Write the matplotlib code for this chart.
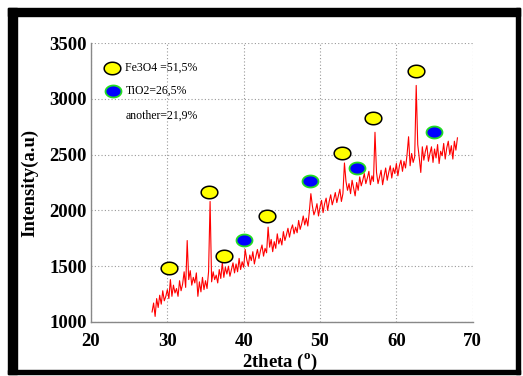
import numpy as np
import matplotlib
matplotlib.use("Agg")
import matplotlib.pyplot as plt
from matplotlib.path import Path
from matplotlib.patches import Rectangle

# XRD trace, every 0.2 degree (28.0 .. 68.0)
two_theta = np.round(np.arange(28.0, 68.01, 0.2), 1)
intensity = [
    1090, 1170, 1050, 1210, 1130,
    1240, 1160, 1280, 1190, 1230,
    1290, 1210, 1380, 1230, 1330,
    1260, 1300, 1230, 1370, 1280,
    1340, 1450, 1310, 1730, 1380,
    1460, 1330, 1400, 1350, 1440,
    1230, 1360, 1270, 1400, 1290,
    1370, 1300, 1450, 2080, 1360,
    1450, 1380, 1420, 1350, 1470,
    1390, 1530, 1400, 1490, 1430,
    1500, 1410, 1470, 1530, 1440,
    1520, 1450, 1570, 1470, 1540,
    1490, 1650, 1560, 1500, 1600,
    1550, 1630, 1520, 1590, 1650,
    1570, 1640, 1690, 1590, 1660,
    1620, 1850, 1670, 1740, 1630,
    1720, 1660, 1790, 1700, 1750,
    1690, 1810, 1730, 1780, 1840,
    1760, 1830, 1870, 1790, 1850,
    1800, 1910, 1830, 1880, 1950,
    1870, 1930, 1860, 1990, 2150,
    2040, 1960, 2000, 2060, 1950,
    2030, 2090, 1980, 2060, 2110,
    2000, 2080, 2140, 2050, 2100,
    2160, 2070, 2130, 2190, 2080,
    2150, 2425, 2260, 2180, 2240,
    2150, 2270, 2200, 2130, 2250,
    2180, 2300, 2220, 2270, 2330,
    2240, 2290, 2350, 2230, 2310,
    2260, 2700, 2340, 2240, 2300,
    2360, 2230, 2310, 2380, 2270,
    2340, 2400, 2290, 2380, 2330,
    2420, 2310, 2400, 2450, 2350,
    2440, 2380, 2500, 2660, 2400,
    2510, 2430, 2480, 3120, 2590,
    2470, 2340, 2570, 2450, 2530,
    2580, 2440, 2510, 2570, 2430,
    2550, 2470, 2590, 2420, 2530,
    2490, 2600, 2460, 2560, 2620,
    2500, 2580, 2460, 2620, 2540,
    2650,
]

# phase markers
fe3o4_x = [30.2, 35.5, 37.4, 43.1, 52.9, 57.0, 62.6]
fe3o4_y = [1485, 2165, 1590, 1950, 2515, 2830, 3250]
tio2_x = [40.05, 48.7, 54.85, 64.95]
tio2_y = [1735, 2265, 2380, 2700]

legend_labels = ["Fe3O4 =51,5%", "TiO2=26,5%", "another=21,9%"]

plt.rcParams["font.family"] = "Liberation Serif"
plt.rcParams["mathtext.fontset"] = "custom"
plt.rcParams["mathtext.rm"] = "Liberation Serif:bold"

# circle squashed vertically, the picture is stretched sideways
t = np.linspace(0, 2 * np.pi, 60)
ell = Path(np.column_stack([np.cos(t), 0.75 * np.sin(t)]), closed=True)

W, H = 523, 376
fig = plt.figure(figsize=(W / 100, H / 100), dpi=100)
ax = fig.add_axes([91 / W, 1 - 322 / H, (472.7 - 91) / W, (322 - 43) / H])

ax.plot(two_theta, intensity, color="red", lw=0.8, zorder=2)
ax.plot(fe3o4_x, fe3o4_y, ls="none", marker=ell, ms=12, mfc="#ffff00",
        mec="black", mew=1.1, zorder=3)
ax.plot(tio2_x, tio2_y, ls="none", marker=ell, ms=11.5, mfc="#0000ff",
        mec="#22dd22", mew=1.3, zorder=3)

# hand-made legend
ax.plot([22.75], [3275], ls="none", marker=ell, ms=12, mfc="#ffff00",
        mec="black", mew=1.1)
ax.plot([22.9], [3070], ls="none", marker=ell, ms=11.5, mfc="#0000ff",
        mec="#22dd22", mew=1.3)
for lab, yy in zip(legend_labels, [3275, 3070, 2850]):
    ax.text(24.5, yy, lab, fontsize=8.5, va="center", ha="left")

ax.set_xlim(20, 70)
ax.set_ylim(1000, 3500)
ax.set_xticks([20, 30, 40, 50, 60, 70])
ax.set_yticks([1000, 1500, 2000, 2500, 3000, 3500])
ax.grid(True, ls=(0, (1, 2)), color="#999999", lw=0.8)
ax.set_axisbelow(True)
for s in ["top", "right"]:
    ax.spines[s].set_visible(False)
for s in ["left", "bottom"]:
    ax.spines[s].set_color("#888888")
    ax.spines[s].set_linewidth(1.0)
ax.tick_params(length=0, labelsize=13.5)
ax.tick_params(axis="x", pad=8)
ax.tick_params(axis="y", pad=3)
for lab in ax.get_xticklabels() + ax.get_yticklabels():
    lab.set_fontweight("bold")

fig.text(280 / W, 1 - 362 / H, r"2theta ($^\mathrm{o}$)", fontsize=13.5,
         fontweight="bold", ha="center", va="center")
fig.text(30 / W, 1 - 183 / H, "Intensity(a.u)", fontsize=13.5,
         fontweight="bold", ha="center", va="center", rotation=90)

# thick black frame round the figure
for x0, y0, w, h in [(8, 8, 512, 8), (8, 8, 9, 366), (516, 8, 4, 366),
                     (8, 370, 512, 4)]:
    fig.patches.append(Rectangle((x0 / W, 1 - (y0 + h) / H), w / W, h / H,
                                 transform=fig.transFigure, color="black"))

fig.savefig("out.png", dpi=100)
